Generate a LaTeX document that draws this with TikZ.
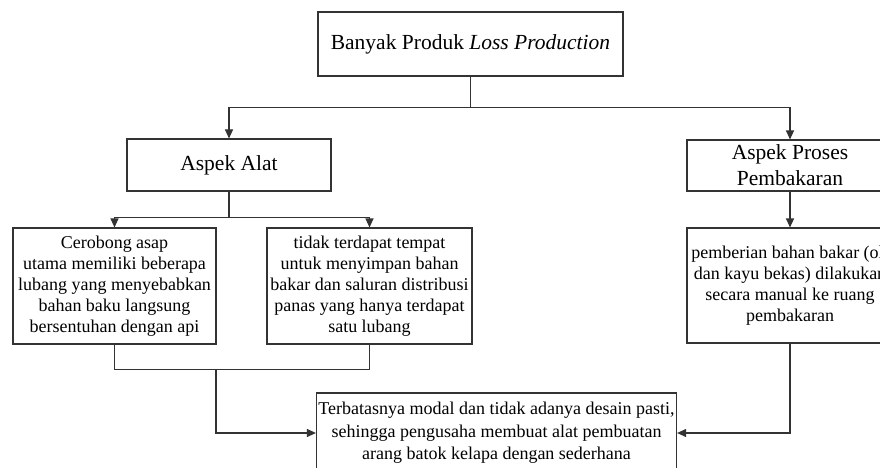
\documentclass[tikz,border=0pt]{standalone}
\usepackage{fontspec}
\setmainfont{Liberation Serif}
\usetikzlibrary{arrows.meta}

\tikzset{
  box/.style={draw=black!80, line width=1.1pt, fill=white, align=center,
    inner sep=2pt, font=\fontsize{18}{21}\selectfont},
  headbox/.style={box, font=\fontsize{21.5}{26}\selectfont},
  link/.style={draw=black!80, line width=1.1pt},
  arr/.style={link, -{Triangle[length=9pt,width=8pt]}},
}

\begin{document}
\begin{tikzpicture}[x=1pt,y=-1pt]
  \useasboundingbox (0,0) rectangle (880,468);
  \clip (0,0) rectangle (880,468);

  % root problem
  \node[headbox, minimum width=305pt, minimum height=64pt] (top) at (470.5,44)
    {Banyak Produk \textit{Loss Production}};

  % aspects
  \node[headbox, minimum width=204pt, minimum height=52pt] (alat) at (229,165)
    {Aspek Alat};
  \node[headbox, minimum width=206pt, minimum height=51pt] (proses) at (790,165.5)
    {Aspek Proses\\Pembakaran};

  % causes
  \node[box, minimum width=203pt, minimum height=116pt] (cer) at (114.5,286)
    {Cerobong asap\\utama memiliki beberapa\\lubang yang menyebabkan\\bahan baku langsung\\bersentuhan dengan api};
  \node[box, minimum width=205pt, minimum height=116pt] (tdk) at (369.5,286)
    {tidak terdapat tempat\\untuk menyimpan bahan\\bakar dan saluran distribusi\\panas yang hanya terdapat\\satu lubang};
  \node[box, minimum width=206pt, minimum height=115pt] (pem) at (790,285.5)
    {pemberian bahan bakar (oli\\dan kayu bekas) dilakukan\\secara manual ke ruang\\pembakaran};

  % root cause
  \node[box, font=\fontsize{18}{22.5}\selectfont, minimum width=357pt, minimum height=80pt]
    (hasil) at (496.5,433)
    {Terbatasnya modal dan tidak adanya desain pasti,\\sehingga pengusaha membuat alat pembuatan\\arang batok kelapa dengan sederhana};

  % root to aspects
  \draw[link] (top.south) -- ++(0,31) coordinate (split);
  \draw[arr] (split) -| (alat.north);
  \draw[arr] (split) -| (proses.north);

  % tool aspect to its causes
  \draw[link] (alat.south) -- ++(0,26) coordinate (split2);
  \draw[arr] (split2) -| (cer.north);
  \draw[arr] (split2) -| (tdk.north);

  % combustion aspect to its cause
  \draw[arr] (proses.south) -- (pem.north);

  % causes merge into root cause
  \draw[link] (cer.south) -- ++(0,25) coordinate (joinl) -| (tdk.south);
  \coordinate (drop) at (216,369);
  \draw[arr] (drop) |- (hasil.west);
  \draw[arr] (pem.south) |- (hasil.east);
\end{tikzpicture}
\end{document}
